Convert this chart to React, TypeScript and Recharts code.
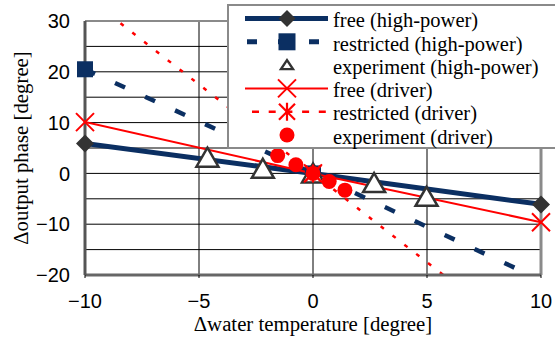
import React from 'react';
import { ComposedChart, Line, Scatter, XAxis, YAxis, CartesianGrid, ReferenceLine, Label } from 'recharts';

const NAVY = '#0b2f62';
const RED = '#ff0000';
const DARK = '#333333';
const BORDER = '#8a8a8a';
const SANS = 'Liberation Sans';
const SERIF = 'Liberation Serif';

const xTicks = [-10, -5, 0, 5, 10];
const yTicks = [-20, -15, -10, -5, 0, 5, 10, 15, 20, 25, 30];
const xDomain = [-10, 10];
const yDomain = [-20, 30];

const xTitle = 'Δwater temperature [degree]';
const yTitle = 'Δoutput phase [degree]';

const freeHighPower = [
  { x: -10, y: 5.9 },
  { x: 0, y: 0 },
  { x: 10, y: -6.1 },
];
const restrictedHighPower = [
  { x: -10, y: 20.5 },
  { x: 0, y: 0 },
  { x: 10, y: -21 },
];
const experimentHighPower = [
  { x: -4.63, y: 3.1 },
  { x: -2.2, y: 0.9 },
  { x: 0, y: 0 },
  { x: 2.68, y: -1.9 },
  { x: 4.98, y: -4.6 },
];
const freeDriver = [
  { x: -10, y: 10.1 },
  { x: 0, y: 0 },
  { x: 10, y: -9.6 },
];
const restrictedDriver = [
  { x: -10, y: 35 },
  { x: 0, y: 0 },
  { x: 10, y: -35 },
];
const experimentDriver = [
  { x: -1.55, y: 3.5 },
  { x: -0.75, y: 1.7 },
  { x: 0, y: 0 },
  { x: 0.71, y: -1.6 },
  { x: 1.4, y: -3.3 },
];

const seriesNames = [
  'free (high-power)',
  'restricted (high-power)',
  'experiment (high-power)',
  'free (driver)',
  'restricted (driver)',
  'experiment (driver)',
];

const inRange = (d: { x: number; y: number }[]) =>
  d.filter((p) => p.x >= xDomain[0] && p.x <= xDomain[1] && p.y >= yDomain[0] && p.y <= yDomain[1]);

const fmt = (v: number) => (v < 0 ? '\u2212' + Math.abs(v) : String(v));

function Diamond({ cx, cy, r = 9 }: any) {
  return <path d={`M${cx},${cy - r}L${cx + r},${cy}L${cx},${cy + r}L${cx - r},${cy}Z`} fill={DARK} />;
}
function Square({ cx, cy, r = 8 }: any) {
  return <rect x={cx - r} y={cy - r} width={2 * r} height={2 * r} fill={NAVY} />;
}
function Tri({ cx, cy, w = 11, h = 10, sw = 2.5 }: any) {
  return (
    <path
      d={`M${cx},${cy - h}L${cx + w},${cy + h - 1}L${cx - w},${cy + h - 1}Z`}
      fill="#fff"
      stroke={DARK}
      strokeWidth={sw}
      strokeLinejoin="miter"
    />
  );
}
function XMark({ cx, cy, r = 9 }: any) {
  return (
    <path
      d={`M${cx - r},${cy - r}L${cx + r},${cy + r}M${cx + r},${cy - r}L${cx - r},${cy + r}`}
      stroke={RED}
      strokeWidth={2}
      fill="none"
    />
  );
}
function Asterisk({ cx, cy, r = 8 }: any) {
  return (
    <path
      d={`M${cx - r},${cy - r}L${cx + r},${cy + r}M${cx + r},${cy - r}L${cx - r},${cy + r}M${cx},${cy - r - 1}L${cx},${cy + r + 1}`}
      stroke={RED}
      strokeWidth={2.2}
      fill="none"
    />
  );
}
function Circ({ cx, cy, r = 7.5 }: any) {
  return <circle cx={cx} cy={cy} r={r} fill={RED} />;
}

const legendItems = [
  { name: seriesNames[0], line: { stroke: NAVY, width: 5, dash: undefined as string | undefined, x1: 18, x2: 101 }, Marker: Diamond, mr: 8.5 },
  { name: seriesNames[1], line: { stroke: NAVY, width: 5, dash: '10 21', x1: 20, x2: 92 }, Marker: Square, mr: 8.5 },
  { name: seriesNames[2], line: null, Marker: Tri, mr: 0 },
  { name: seriesNames[3], line: { stroke: RED, width: 2, dash: undefined, x1: 18, x2: 101 }, Marker: XMark, mr: 9 },
  { name: seriesNames[4], line: { stroke: RED, width: 2.5, dash: '7 9.7', x1: 25, x2: 101 }, Marker: Asterisk, mr: 8 },
  { name: seriesNames[5], line: null, Marker: Circ, mr: 7.5 },
];

function LegendBox() {
  return (
    <svg
      width={340}
      height={146}
      style={{ position: 'absolute', left: 227, top: 4, overflow: 'hidden' }}
    >
      <rect x={1} y={1} width={400} height={143} fill="#fff" stroke={BORDER} strokeWidth={2} />
      {legendItems.map((it, i) => {
        const cy = 14.5 + 23.3 * i;
        const cx = 60;
        return (
          <g key={it.name}>
            {it.line && (
              <line
                x1={it.line.x1}
                x2={it.line.x2}
                y1={cy}
                y2={cy}
                stroke={it.line.stroke}
                strokeWidth={it.line.width}
                strokeDasharray={it.line.dash}
              />
            )}
            {it.Marker === Tri ? (
              <Tri cx={cx} cy={cy} w={6} h={5} sw={2.4} />
            ) : (
              <it.Marker cx={cx} cy={cy} r={it.mr} />
            )}
            <text x={106} y={cy + 8.7} style={{ fontFamily: SERIF, fontSize: 20.5 }} fill="#000">
              {it.name}
            </text>
          </g>
        );
      })}
    </svg>
  );
}

export default function App() {
  return (
    <div
      style={{
        position: 'absolute',
        left: 0,
        top: 0,
        width: 555,
        height: 339,
        overflow: 'hidden',
        background: '#fff',
      }}
    >
      <ComposedChart width={555} height={339} margin={{ top: 21, right: 14, left: 0, bottom: 0 }}>
        <CartesianGrid stroke="#000" strokeWidth={1} />
        <XAxis
          type="number"
          dataKey="x"
          domain={xDomain}
          ticks={xTicks}
          tickFormatter={fmt}
          height={64}
          tick={{ fill: '#000', fontSize: 20, fontFamily: SANS }}
          tickSize={3}
          tickMargin={16}
          tickLine={{ stroke: '#000' }}
          axisLine={{ stroke: '#666', strokeWidth: 3 }}
        >
          <Label
            value={xTitle}
            position="insideBottom"
            offset={8}
            style={{ fontFamily: SERIF, fontSize: 20.8, fill: '#000' }}
          />
        </XAxis>
        <YAxis
          type="number"
          dataKey="y"
          domain={yDomain}
          ticks={yTicks}
          tickFormatter={fmt}
          width={85}
          tick={{ fill: '#000', fontSize: 20, fontFamily: SANS }}
          tickSize={0}
          tickMargin={15}
          tickLine={false}
          axisLine={{ stroke: '#555', strokeWidth: 3 }}
        >
          <Label
            value={yTitle}
            angle={-90}
            position="center"
            dx={-22}
            style={{ fontFamily: SERIF, fontSize: 20.8, fill: '#000', textAnchor: 'middle' }}
          />
        </YAxis>
        <XAxis xAxisId="c" type="number" dataKey="x" domain={xDomain} allowDataOverflow hide />
        <YAxis yAxisId="c" type="number" dataKey="y" domain={yDomain} allowDataOverflow hide />
        <ReferenceLine y={30} stroke={BORDER} strokeWidth={2} />
        <ReferenceLine x={10} stroke={BORDER} strokeWidth={3} />

        <Line xAxisId="c" yAxisId="c" data={freeHighPower} dataKey="y" name={seriesNames[0]} type="linear"
          stroke={NAVY} strokeWidth={5} dot={false} activeDot={false} isAnimationActive={false} />
        <Scatter data={inRange(freeHighPower)} dataKey="y" isAnimationActive={false}
          shape={(p: any) => <Diamond cx={p.cx} cy={p.cy} />} />

        <Line xAxisId="c" yAxisId="c" data={restrictedHighPower} dataKey="y" name={seriesNames[1]} type="linear"
          stroke={NAVY} strokeWidth={4.5} strokeDasharray="11 22" dot={false} activeDot={false} isAnimationActive={false} />
        <Scatter data={inRange(restrictedHighPower)} dataKey="y" isAnimationActive={false}
          shape={(p: any) => <Square cx={p.cx} cy={p.cy} />} />

        <Scatter data={experimentHighPower} dataKey="y" name={seriesNames[2]} isAnimationActive={false}
          shape={(p: any) => <Tri cx={p.cx} cy={p.cy} />} />

        <Line xAxisId="c" yAxisId="c" data={freeDriver} dataKey="y" name={seriesNames[3]} type="linear"
          stroke={RED} strokeWidth={2} dot={false} activeDot={false} isAnimationActive={false} />
        <Scatter data={inRange(freeDriver)} dataKey="y" isAnimationActive={false}
          shape={(p: any) => <XMark cx={p.cx} cy={p.cy} />} />

        <Line xAxisId="c" yAxisId="c" data={restrictedDriver} dataKey="y" name={seriesNames[4]} type="linear"
          stroke={RED} strokeWidth={2.5} strokeDasharray="4 11" dot={false} activeDot={false} isAnimationActive={false} />
        <Scatter data={inRange(restrictedDriver)} dataKey="y" isAnimationActive={false}
          shape={(p: any) => <Asterisk cx={p.cx} cy={p.cy} />} />

        <Scatter data={experimentDriver} dataKey="y" name={seriesNames[5]} isAnimationActive={false}
          shape={(p: any) => <Circ cx={p.cx} cy={p.cy} />} />
      </ComposedChart>
      <LegendBox />
    </div>
  );
}
